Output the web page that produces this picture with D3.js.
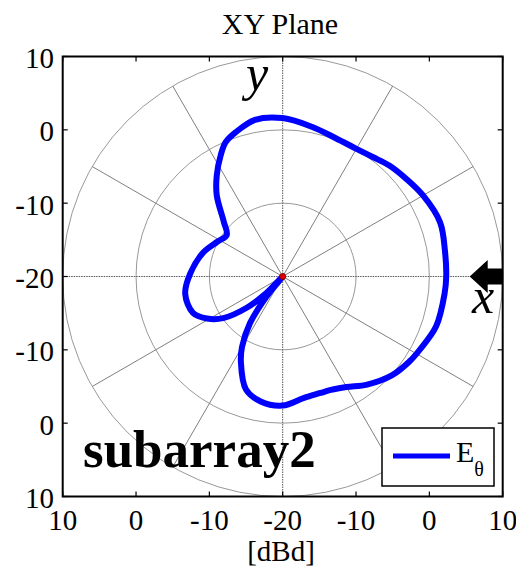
<!DOCTYPE html>
<html>
<head>
<meta charset="utf-8">
<script src="https://cdn.jsdelivr.net/npm/d3@7"></script>
<style>
  body { margin: 0; background: #fff; }
  svg { font-family: "Liberation Serif", "Times New Roman", serif; }
</style>
</head>
<body>
<svg id="chart"></svg>
<script>
// pattern in the XY plane, angle measured from +x, counter-clockwise
const angleDeg = [0, 9, 19, 30, 38, 46, 53, 60, 69, 79, 90, 100, 108, 113, 117, 123, 129, 137, 143.5,
                  152, 163, 178, 190, 202, 209, 215, 221, 225, 228, 231, 235, 240, 244, 252, 260,
                  270, 280, 288, 293, 300, 308, 318, 326, 332, 342, 354];
const gainDb = [2.3, 2.4, 2.7, 2.1, 1.5, 1.0, 0.4, 0.1, 0.2, 0.8, 1.6, 1.7, 0.7, -0.1, -1.4, -3.5, -5.7, -9.0, -10.5,
                -9.9, -8.7, -7.4, -6.5, -6.8, -8.2, -10.1, -13.5, -16.5, -20, -16.5, -12.2, -8.9, -7.0, -3.8, -2.7,
                -2.4, -3.2, -3.3, -3.2, -2.6, -1.3, 0.1, 0.8, 1.2, 2.0, 2.2];

const axisTicks = [-30, -20, -10, 0, 10, 20, 30];
const tickLabels = ["10", "0", "-10", "-20", "-10", "0", "10"];
const ringDb = [-10, 0, 10];
const spokeDeg = [0, 30, 60, 90, 120, 150, 180, 210, 240, 270, 300, 330];
const rMin = -20, rMax = 10;

const width = 516, height = 569;
const svg = d3.select('#chart').attr('width', width).attr('height', height);

const x = d3.scaleLinear().domain([-30, 30]).range([62.7, 502.7]);
const y = d3.scaleLinear().domain([-30, 30]).range([496.5, 56.5]);
const cx = x(0), cy = y(0);
const r = d3.scaleLinear().domain([rMin, rMax]).range([0, x(30) - x(0)]).clamp(true);

// polar grid
const grid = svg.append('g').attr('transform', 'translate(' + cx + ',' + cy + ')');

grid.selectAll('.ring')
    .data(ringDb)
    .enter().append('circle')
    .attr('r', d => r(d))
    .attr('fill', 'none')
    .attr('stroke', '#999')
    .attr('stroke-width', 1);

grid.selectAll('.spoke')
    .data(spokeDeg)
    .enter().append('line')
    .attr('x2', d => r(rMax) * Math.cos(d * Math.PI / 180))
    .attr('y2', d => -r(rMax) * Math.sin(d * Math.PI / 180))
    .attr('stroke', d => d % 90 === 0 ? '#555' : '#808080')
    .attr('stroke-dasharray', d => d % 90 === 0 ? '1.5,1' : null)
    .attr('stroke-width', 1);

// pattern
const pts = angleDeg.map((a, i) => ({a: a, v: gainDb[i]}));
const line = d3.lineRadial()
    .angle(d => (90 - d.a) * Math.PI / 180)
    .radius(d => r(d.v))
    .curve(d3.curveCatmullRomClosed.alpha(0.5));

grid.append('path')
    .datum(pts)
    .attr('d', line)
    .attr('fill', 'none')
    .attr('stroke', '#0000ff')
    .attr('stroke-width', 6)
    .attr('stroke-linejoin', 'round');

grid.append('circle')
    .attr('r', 3)
    .attr('fill', '#e00000')
    .attr('stroke', '#800000')
    .attr('stroke-width', 0.8);

// axes frame and ticks
svg.append('rect')
    .attr('x', x(-30)).attr('y', y(30))
    .attr('width', x(30) - x(-30)).attr('height', y(-30) - y(30))
    .attr('fill', 'none').attr('stroke', '#000').attr('stroke-width', 2);

const tl = 5;
const ticks = svg.append('g').attr('stroke', '#000').attr('stroke-width', 1.2);
axisTicks.forEach(t => {
    ticks.append('line').attr('x1', x(t)).attr('x2', x(t)).attr('y1', y(-30)).attr('y2', y(-30) - tl);
    ticks.append('line').attr('x1', x(t)).attr('x2', x(t)).attr('y1', y(30)).attr('y2', y(30) + tl);
    ticks.append('line').attr('y1', y(t)).attr('y2', y(t)).attr('x1', x(-30)).attr('x2', x(-30) + tl);
    ticks.append('line').attr('y1', y(t)).attr('y2', y(t)).attr('x1', x(30)).attr('x2', x(30) - tl);
});

svg.selectAll('.xlab')
    .data(axisTicks)
    .enter().append('text')
    .attr('x', d => x(d))
    .attr('y', 530)
    .attr('text-anchor', 'middle')
    .style('font-size', '29px')
    .text((d, i) => tickLabels[i]);

svg.selectAll('.ylab')
    .data(axisTicks)
    .enter().append('text')
    .attr('x', 54)
    .attr('y', d => y(d))
    .attr('dy', '0.4em')
    .attr('text-anchor', 'end')
    .style('font-size', '29px')
    .text((d, i) => tickLabels[i]);

svg.append('text')
    .attr('x', 280).attr('y', 34)
    .attr('text-anchor', 'middle')
    .style('font-size', '30px')
    .text('XY Plane');

svg.append('text')
    .attr('x', 281).attr('y', 561)
    .attr('text-anchor', 'middle')
    .style('font-size', '29px')
    .text('[dBd]');

// axis annotations
svg.append('text')
    .attr('x', 246).attr('y', 90)
    .style('font-size', '50px').style('font-style', 'italic')
    .text('y');

svg.append('text')
    .attr('x', 472).attr('y', 313)
    .style('font-size', '50px').style('font-style', 'italic')
    .text('x');

const ax = x(30);
svg.append('path')
    .attr('d', d3.line()([[ax - 33, cy], [ax - 15, cy - 16.5], [ax - 15, cy - 8], [ax, cy - 8],
                          [ax, cy + 8], [ax - 15, cy + 8], [ax - 15, cy + 16.5]]) + 'Z')
    .attr('fill', '#000');

svg.append('text')
    .attr('x', 83).attr('y', 467)
    .style('font-size', '53px').style('font-weight', 'bold')
    .text('subarray2');

// legend
const lg = svg.append('g');
lg.append('rect')
    .attr('x', 382).attr('y', 428).attr('width', 112).attr('height', 58)
    .attr('fill', '#fff').attr('stroke', '#000').attr('stroke-width', 1.5);
lg.append('line')
    .attr('x1', 393).attr('x2', 450).attr('y1', 456).attr('y2', 456)
    .attr('stroke', '#0000ff').attr('stroke-width', 5);
const lt = lg.append('text').attr('x', 456).attr('y', 462).style('font-size', '30px');
lt.append('tspan').text('E');
lt.append('tspan').attr('dy', 14).style('font-size', '20px').text('θ');
</script>
</body>
</html>
